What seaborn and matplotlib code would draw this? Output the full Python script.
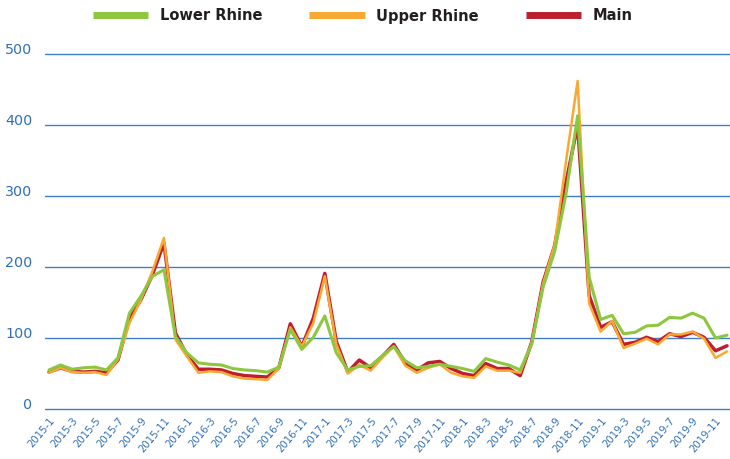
import matplotlib
matplotlib.use("Agg")
import matplotlib.pyplot as plt
import seaborn as sns
import numpy as np
import pandas as pd
from matplotlib.lines import Line2D

years = [2015, 2016, 2017, 2018, 2019]
months = [f"{y}-{m}" for y in years for m in range(1, 13)]

lower_rhine = [55, 62, 56, 58, 59, 55, 72, 135, 159, 187, 196, 102,
               79, 65, 63, 62, 57, 55, 54, 52, 59, 112, 84, 101,
               131, 79, 55, 60, 61, 75, 88, 68, 58, 60, 63, 60,
               57, 53, 71, 66, 62, 55, 91, 172, 222, 304, 413, 186,
               126, 132, 106, 108, 117, 118, 129, 128, 135, 128, 100, 104]
upper_rhine = [51, 58, 52, 51, 52, 48, 70, 121, 154, 194, 241, 98,
               74, 51, 53, 52, 46, 43, 42, 41, 57, 115, 88, 121,
               187, 91, 50, 62, 54, 72, 88, 61, 51, 58, 63, 51,
               46, 44, 60, 54, 54, 51, 93, 177, 231, 350, 462, 149,
               109, 124, 86, 92, 99, 91, 105, 105, 109, 99, 72, 81]
main = [52, 58, 53, 52, 53, 51, 69, 128, 154, 189, 234, 107,
        76, 56, 56, 55, 50, 47, 46, 45, 58, 120, 88, 128,
        191, 95, 52, 69, 58, 74, 91, 65, 55, 65, 67, 57,
        50, 47, 64, 57, 57, 47, 94, 179, 230, 320, 400, 160,
        115, 123, 91, 94, 101, 95, 106, 102, 108, 101, 82, 89]

series_names = ["Lower Rhine", "Upper Rhine", "Main"]
y_ticks = [0, 100, 200, 300, 400, 500]

df = pd.DataFrame({
    "idx": np.arange(len(months)),
    "month": months,
    "Lower Rhine": lower_rhine,
    "Upper Rhine": upper_rhine,
    "Main": main,
})

sns.set_theme(style="white")
plt.rcParams["font.family"] = ["DejaVu Sans"]

colors = {"Lower Rhine": "#8dc63f", "Upper Rhine": "#f9a832", "Main": "#be1e2d"}
widths = {"Lower Rhine": 2.2, "Upper Rhine": 1.8, "Main": 2.5}
blue = "#2e6fb7"

fig = plt.figure(figsize=(7.3, 4.59), dpi=100)
ax = fig.add_axes([45 / 730, 50 / 459, 685 / 730, 355 / 459])

for name in ["Main", "Upper Rhine", "Lower Rhine"]:
    sns.lineplot(data=df, x="idx", y=name, ax=ax, color=colors[name],
                 lw=widths[name], label=name, legend=False, clip_on=False,
                 zorder=3)

ax.set_ylim(0, 500)
ax.set_xlim(-0.35, 59.26)
ax.set_yticks(y_ticks)
ax.set_yticklabels([str(v) for v in y_ticks], fontsize=10.3, color=blue)
for lab in ax.get_yticklabels():
    lab.set_va("baseline")
ax.set_xticks(df["idx"][::2])
ax.set_xticklabels(df["month"][::2], rotation=50, ha="right",
                   rotation_mode="anchor", fontsize=7.3, color=blue)
ax.tick_params(axis="y", length=0, pad=9)
ax.tick_params(axis="x", length=0, pad=5)
ax.yaxis.grid(True, color="#3f7ec8", lw=1.0)
ax.xaxis.grid(False)
for gl in ax.get_ygridlines():
    gl.set_clip_on(False)
for s in ax.spines.values():
    s.set_visible(False)
ax.set_xlabel("")
ax.set_ylabel("")

handles = [Line2D([0], [0], color=colors[n], lw=5, solid_capstyle="butt")
           for n in series_names]
fig.legend(handles, series_names, loc="center", bbox_to_anchor=(0.497, 1 - 16 / 459),
           ncol=3, frameon=False, handlelength=3.8, handletextpad=0.8,
           columnspacing=3.2, prop={"weight": "bold", "size": 10.5},
           labelcolor="#231f20")

fig.savefig("out.png", dpi=100)
